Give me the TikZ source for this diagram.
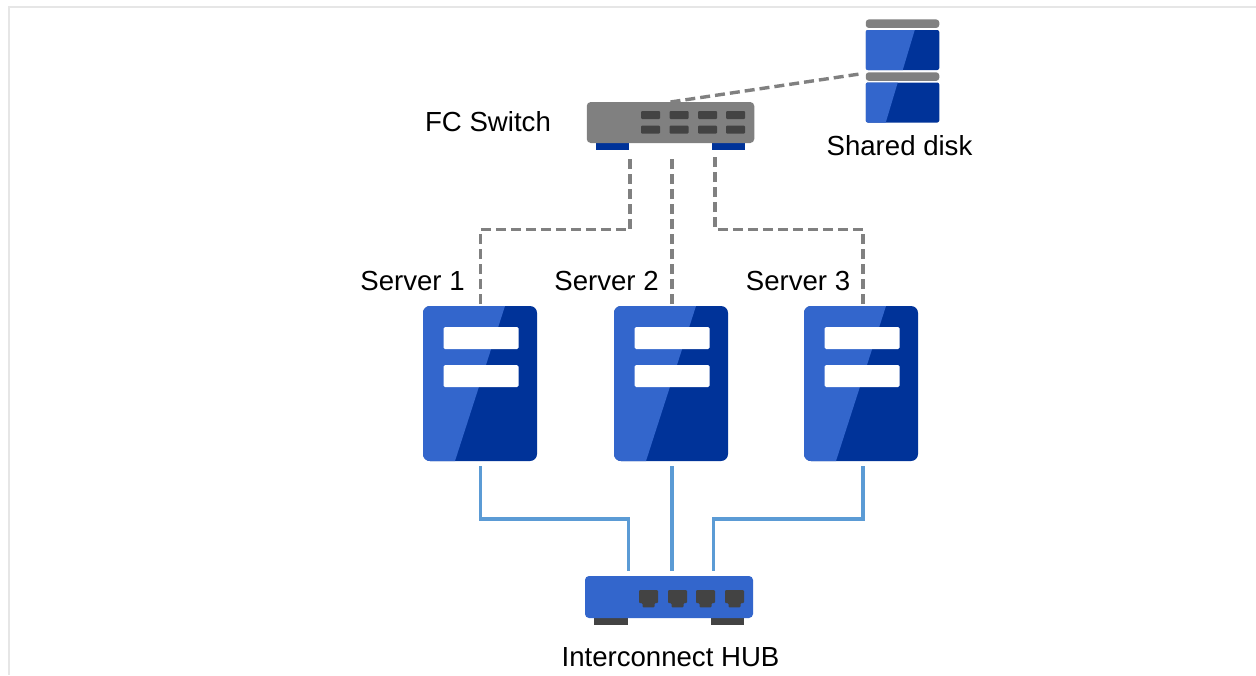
\documentclass[tikz,border=0pt]{standalone}
\usepackage{fontspec}
\setmainfont{Liberation Sans}
\usetikzlibrary{calc}
\definecolor{blueL}{HTML}{3366CC}
\definecolor{blueD}{HTML}{003399}
\definecolor{greyM}{HTML}{808080}
\definecolor{greyD}{HTML}{434343}
\definecolor{wire}{HTML}{5B9BD5}
\definecolor{frameC}{HTML}{E6E6E6}
\tikzset{
  x=1pt,y=-1pt,
  box/.style n args={2}{draw=none,inner sep=0pt,outer sep=0pt,minimum width=#1,minimum height=#2,anchor=center},
  panel/.style n args={2}{path picture={
    \fill[blueL,sharp corners] (path picture bounding box.north west) -- ([xshift=#1]path picture bounding box.north west)
      -- ([xshift=#2]path picture bounding box.south west) -- (path picture bounding box.south west) -- cycle;}},
  serverbox/.style={box={114}{155},fill=blueD,rounded corners=7pt,panel={82}{32}},
  bar/.style={box={75}{22},fill=white,rounded corners=1.5pt},
  diskbox/.style={box={73.5}{40},fill=blueD,rounded corners=2pt},
  diskbar/.style={box={73.5}{8.5},fill=greyM,rounded corners=3pt},
  swport/.style={box={19}{8},fill=greyD,rounded corners=1pt},
  foot/.style={box={33.5}{7}},
  label/.style={inner sep=0pt,font=\fontsize{27.6}{32}\selectfont,text=black},
  fibre/.style={draw=greyM,line width=3.4pt,dash pattern=on 10pt off 5pt},
  lan/.style={draw=wire,line width=3.4pt},
  hubport/.style={greyD,fill=greyD},
}
\begin{document}
\begin{tikzpicture}
\useasboundingbox (0,0) rectangle (1256,675);
\fill[white] (0,0) rectangle (1256,675);
\draw[frameC,line width=1.5pt] (9,675) -- (9,7) -- (1256,7);

% servers
\foreach \n/\cx in {1/480,2/671,3/861}{
  \node[serverbox] (s\n) at (\cx,383.5) {};
  \node[bar] (s\n a) at (\cx+1,338) {};
  \node[bar] (s\n b) at (\cx+1,376) {};
}
\node[label] (ls1) at (412.5,281) {Server 1};
\node[label] (ls2) at (606.5,281) {Server 2};
\node[label] (ls3) at (798,281) {Server 3};

% FC switch
\node[foot,fill=blueD] (fl) at (612.5,146.5) {};
\node[foot,fill=blueD] (fr) at (728.5,146.5) {};
\node[box={167.5}{41},fill=greyM,rounded corners=4pt] (sw) at (670.5,122.5) {};
\foreach \i/\px in {1/650.5,2/679,3/707.5,4/735.5}{
  \node[swport] (pa\i) at (\px,115) {};
  \node[swport] (pb\i) at (\px,129.7) {};
}
\node[label] (lsw) at (488,122) {FC Switch};

% shared disk
\node[diskbar] (dbar1) at (902.5,23.7) {};
\node[diskbox,panel={49}{37}] (d1) at (902.5,50) {};
\node[diskbar] (dbar2) at (902.5,76.6) {};
\node[diskbox,panel={32}{20}] (d2) at (902.5,102.5) {};
\node[label] (ld) at (899.5,146) {Shared disk};

% hub
\node[foot,fill=greyD] (hl) at (611,621.5) {};
\node[foot,fill=greyD] (hr) at (727.5,621.5) {};
\node[box={168}{42},fill=blueL,rounded corners=4pt] (hub) at (669,597) {};
\foreach \i/\px in {1/648.5,2/677.5,3/705.5,4/734.5}{
  \fill[hubport] (\px-9.5,590) [rounded corners=1pt] -- (\px+9.5,590) -- (\px+9.5,603) -- (\px+6,603) -- (\px+6,607.3) -- (\px-6,607.3) -- (\px-6,603) -- (\px-9.5,603) -- cycle;
}
\node[label] (lh) at (670.5,657) {Interconnect HUB};

% bends
\coordinate (bf1) at (630,229.3);
\coordinate (bf3) at (715,229.3);
\coordinate (bl1) at (628.5,519);
\coordinate (bl3) at (713.5,519);

% fibre
\draw[fibre,shorten <=2pt,shorten >=5pt] ([xshift=0.5pt]s1.north) |- (bf1) -- (bf1 |- fl.south);
\draw[fibre,shorten <=2pt,shorten >=12pt] ([xshift=1pt]s2.north) -- ([xshift=1pt]s2.north |- sw.south);
\draw[fibre,shorten <=2pt,shorten >=5pt] ([xshift=2pt]s3.north) |- (bf3) -- (bf3 |- fr.south);
\draw[fibre,shorten >=3pt] (sw.north) -- ([yshift=3.5pt]dbar2.west);

% interconnect
\draw[lan,shorten <=5pt,shorten >=5pt] ([xshift=0.5pt]s1.south) |- (bl1) -- (bl1 |- hub.north);
\draw[lan,shorten <=5pt,shorten >=5pt] ([xshift=1pt]s2.south) -- ([xshift=1pt]s2.south |- hub.north);
\draw[lan,shorten <=5pt,shorten >=5pt] ([xshift=2pt]s3.south) |- (bl3) -- (bl3 |- hub.north);
\end{tikzpicture}
\end{document}
